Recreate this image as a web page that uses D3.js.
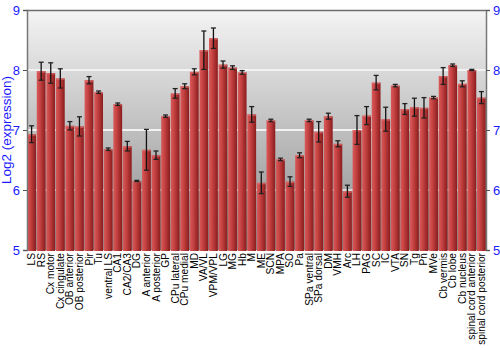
<!DOCTYPE html>
<html>
<head>
<meta charset="utf-8">
<script src="https://cdn.jsdelivr.net/npm/d3@7"></script>
<style>
  body { margin: 0; background: #fff; }
</style>
</head>
<body>
<div id="main"></div>
<script>
var regions = ['LS', 'RS', 'Cx motor', 'Cx cingulate', 'OB anterior', 'OB posterior', 'Pir', 'Tu',
  'ventral LS', 'CA1', 'CA2/CA3', 'DG', 'A anterior', 'A posterior', 'GP', 'CPu lateral', 'CPu medial',
  'MD', 'VA/VL', 'VPM/VPL', 'LG', 'MG', 'Hb', 'M', 'ME', 'SCN', 'MPA', 'SO', 'Pa', 'SPa ventral',
  'SPa dorsal', 'DM', 'VMH', 'Arc', 'LH', 'PAG', 'SC', 'IC', 'VTA', 'SN', 'Tg', 'Pn', 'MVe',
  'Cb vermis', 'Cb lobe', 'Cb nucleus', 'spinal cord anterior', 'spinal cord posterior']

var expression = [6.93, 7.98, 7.95, 7.86, 7.07, 7.06, 7.83, 7.63,
  6.68, 7.43, 6.73, 6.15, 6.67, 6.58, 7.23, 7.61, 7.73,
  7.97, 8.33, 8.53, 8.09, 8.04, 7.96, 7.26, 6.12, 7.16, 6.51, 6.14, 6.58, 7.16,
  6.97, 7.23, 6.77, 5.98, 7.0, 7.24, 7.79, 7.18, 7.74, 7.35, 7.38, 7.37, 7.54,
  7.9, 8.08, 7.77, 8.0, 7.54]

var errors = [0.14, 0.15, 0.17, 0.16, 0.07, 0.16, 0.06, 0.02,
  0.02, 0.02, 0.08, 0.01, 0.34, 0.07, 0.02, 0.08, 0.04,
  0.05, 0.32, 0.17, 0.06, 0.03, 0.03, 0.13, 0.18, 0.02, 0.02, 0.08, 0.04, 0.02,
  0.17, 0.05, 0.05, 0.1, 0.24, 0.15, 0.12, 0.2, 0.02, 0.09, 0.15, 0.17, 0.02,
  0.14, 0.02, 0.05, 0.01, 0.1]

var yTicks = [5, 6, 7, 8, 9]

var w = 500
var h = 350
var pLeft = 27
var pRight = 486
var pTop = 10
var pBottom = 250

var svg = d3.select('div#main').append('svg')
  .attr('width', w)
  .attr('height', h)
  .style('display', 'block')
  .style('font-family', 'Liberation Sans, Arial, sans-serif')

var defs = svg.append('defs')
var bg = defs.append('linearGradient').attr('id', 'bg')
  .attr('x1', 0).attr('y1', 0).attr('x2', 0).attr('y2', 1)
bg.append('stop').attr('offset', '0%').attr('stop-color', '#f4f4f4')
bg.append('stop').attr('offset', '100%').attr('stop-color', '#8a8a8a')

var barGrad = defs.append('linearGradient').attr('id', 'bar')
  .attr('x1', 0).attr('y1', 0).attr('x2', 1).attr('y2', 0)
barGrad.append('stop').attr('offset', '0%').attr('stop-color', '#d85a5a')
barGrad.append('stop').attr('offset', '35%').attr('stop-color', '#c84444')
barGrad.append('stop').attr('offset', '100%').attr('stop-color', '#8a1c1c')

var x = d3.scaleBand().domain(regions).range([pLeft, pRight]).paddingInner(0.08).paddingOuter(0.02)
var y = d3.scaleLinear().domain([5, 9]).range([pBottom, pTop])

// panel
svg.append('rect')
  .attr('x', pLeft).attr('y', pTop)
  .attr('width', pRight - pLeft).attr('height', pBottom - pTop)
  .attr('fill', 'url(#bg)')

// grid
svg.selectAll('line.grid').data([6, 7, 8]).enter().append('line')
  .attr('class', 'grid')
  .attr('x1', pLeft).attr('x2', pRight)
  .attr('y1', function (d) { return y(d) }).attr('y2', function (d) { return y(d) })
  .attr('stroke', function (d) { return d === 6 ? '#d8d8d8' : '#f2f2f2' })
  .attr('stroke-width', 2)

// top border
svg.append('line')
  .attr('x1', pLeft).attr('x2', pRight).attr('y1', pTop + 0.5).attr('y2', pTop + 0.5)
  .attr('stroke', '#6e6e6e').attr('stroke-width', 1.5)

// bars
svg.selectAll('rect.bar').data(regions).enter().append('rect')
  .attr('class', 'bar')
  .attr('x', function (d) { return x(d) })
  .attr('y', function (d, i) { return y(expression[i]) })
  .attr('width', x.bandwidth())
  .attr('height', function (d, i) { return pBottom + 1 - y(expression[i]) })
  .attr('fill', 'url(#bar)')

svg.selectAll('rect.hl').data(regions).enter().append('rect')
  .attr('class', 'hl')
  .attr('x', function (d) { return x(d) })
  .attr('y', function (d, i) { return y(expression[i]) })
  .attr('width', x.bandwidth())
  .attr('height', 1.5)
  .attr('fill', '#e07070')
  .attr('opacity', 0.7)

// error bars
var eb = svg.selectAll('g.err').data(regions).enter().append('g')
  .attr('class', 'err')
  .attr('transform', function (d) { return 'translate(' + (x(d) + x.bandwidth() / 2) + ',0)' })
eb.append('line')
  .attr('y1', function (d, i) { return y(expression[i] + errors[i]) })
  .attr('y2', function (d, i) { return y(expression[i] - errors[i]) })
  .attr('stroke', '#111').attr('stroke-width', 1.3)
eb.append('line')
  .attr('x1', -2.5).attr('x2', 2.5)
  .attr('y1', function (d, i) { return y(expression[i] + errors[i]) })
  .attr('y2', function (d, i) { return y(expression[i] + errors[i]) })
  .attr('stroke', '#222').attr('stroke-width', 1.3)
eb.append('line')
  .attr('x1', -2.5).attr('x2', 2.5)
  .attr('y1', function (d, i) { return y(expression[i] - errors[i]) })
  .attr('y2', function (d, i) { return y(expression[i] - errors[i]) })
  .attr('stroke', '#222').attr('stroke-width', 1.3)

// axes
var yl = svg.append('g').attr('transform', 'translate(' + pLeft + ',0)')
  .call(d3.axisLeft(y).tickValues(yTicks).tickSize(4).tickPadding(3).tickFormat(d3.format('d')))
var yr = svg.append('g').attr('transform', 'translate(' + pRight + ',0)')
  .call(d3.axisRight(y).tickValues(yTicks).tickSize(4).tickPadding(3).tickFormat(d3.format('d')))
;[yl, yr].forEach(function (g) {
  g.select('.domain').attr('stroke', '#777').attr('stroke-width', 1.5)
  g.selectAll('.tick line').attr('stroke', '#555')
  g.selectAll('.tick text').attr('fill', '#1a1aff').style('font-size', '13px')
    .style('font-family', 'Liberation Sans, Arial, sans-serif')
})

// y title
svg.append('text')
  .attr('transform', 'translate(11,' + ((pTop + pBottom) / 2) + ') rotate(-90)')
  .attr('text-anchor', 'middle')
  .attr('fill', '#1a1aff')
  .style('font-size', '13.5px')
  .text('Log2 (expression)')

// x labels
svg.selectAll('text.xl').data(regions).enter().append('text')
  .attr('class', 'xl')
  .attr('transform', function (d) {
    return 'translate(' + (x(d) + x.bandwidth() / 2 + 3.5) + ',' + (pBottom + 3) + ') rotate(-90)'
  })
  .attr('text-anchor', 'end')
  .attr('fill', '#000')
  .style('font-size', '10.2px')
  .text(function (d) { return d })
</script>
</body>
</html>
